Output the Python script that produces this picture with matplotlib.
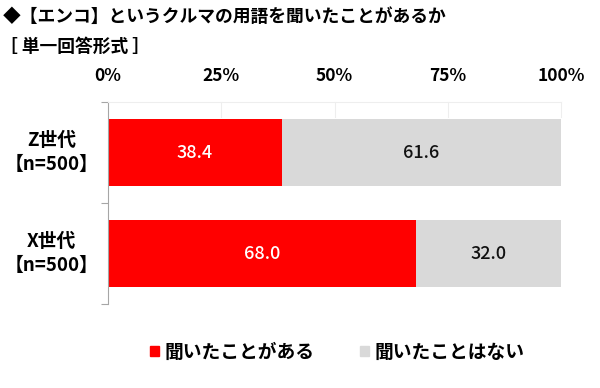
import matplotlib
matplotlib.use("Agg")
import matplotlib.pyplot as plt
from matplotlib.patches import Patch

plt.rcParams['font.family'] = ['Noto Sans CJK JP', 'DejaVu Sans']

categories = ["Z世代\n【n=500】", "X世代\n【n=500】"]
heard = [38.4, 68.0]
not_heard = [61.6, 32.0]
series_names = ["聞いたことがある", "聞いたことはない"]
ticks = [0, 25, 50, 75, 100]
tick_labels = ["0%", "25%", "50%", "75%", "100%"]

red = "#FF0000"
gray = "#D9D9D9"

fig = plt.figure(figsize=(6.0, 3.88), dpi=100)
ax = fig.add_axes([0.18, 0.216, 0.755, 0.521])

y = [0, 1]
b1 = ax.barh(y, heard, height=0.66, color=red)
b2 = ax.barh(y, not_heard, left=heard, height=0.66, color=gray)
for i, (h, n) in enumerate(zip(heard, not_heard)):
    ax.text(h / 2, y[i], f"{h:.1f}", ha="center", va="center", color="white", fontsize=13, fontweight="medium")
    ax.text(h + n / 2, y[i], f"{n:.1f}", ha="center", va="center", color="#111111", fontsize=13, fontweight="medium")

ax.set_xlim(0, 100)
ax.set_ylim(1.5, -0.5)
ax.xaxis.tick_top()
ax.set_xticks(ticks)
ax.set_xticklabels(tick_labels, fontsize=12.5, fontweight="bold")
ax.tick_params(axis="x", length=0, pad=12)
ax.set_yticks([-0.5, 0.5, 1.5])
ax.set_yticklabels([])
ax.tick_params(axis="y", length=5, color="#A6A6A6", direction="out")
for i, c in enumerate(categories):
    ax.text(-0.124, y[i], c, transform=ax.get_yaxis_transform(), ha="center", va="center",
            fontsize=13.5, fontweight="bold", linespacing=1.3)

for s in ["right", "bottom"]:
    ax.spines[s].set_visible(False)
ax.spines["left"].set_color("#A6A6A6")
ax.spines["top"].set_color("#EEEEEE")
for t in [25, 50, 75, 100]:
    ax.plot([t, t], [-0.5, -0.35], color="#EEEEEE", lw=0.8, clip_on=False)

fig.text(0.005, 0.956, "◆【エンコ】というクルマの用語を聞いたことがあるか", fontsize=12.8, fontweight="bold", va="center", ha="left")
fig.text(0.0, 0.879, "［ 単一回答形式 ］", fontsize=12.8, fontweight="bold", va="center", ha="left")

handles = [Patch(color=red), Patch(color=gray)]
fig.legend(handles, series_names, loc="center", bbox_to_anchor=(0.5625, 0.092), ncol=2,
           frameon=False, prop={"size": 13.5, "weight": "bold"}, handlelength=0.5, handleheight=0.5,
           handletextpad=0.3, columnspacing=2.4)

fig.savefig("out.png", dpi=100, facecolor="white")
